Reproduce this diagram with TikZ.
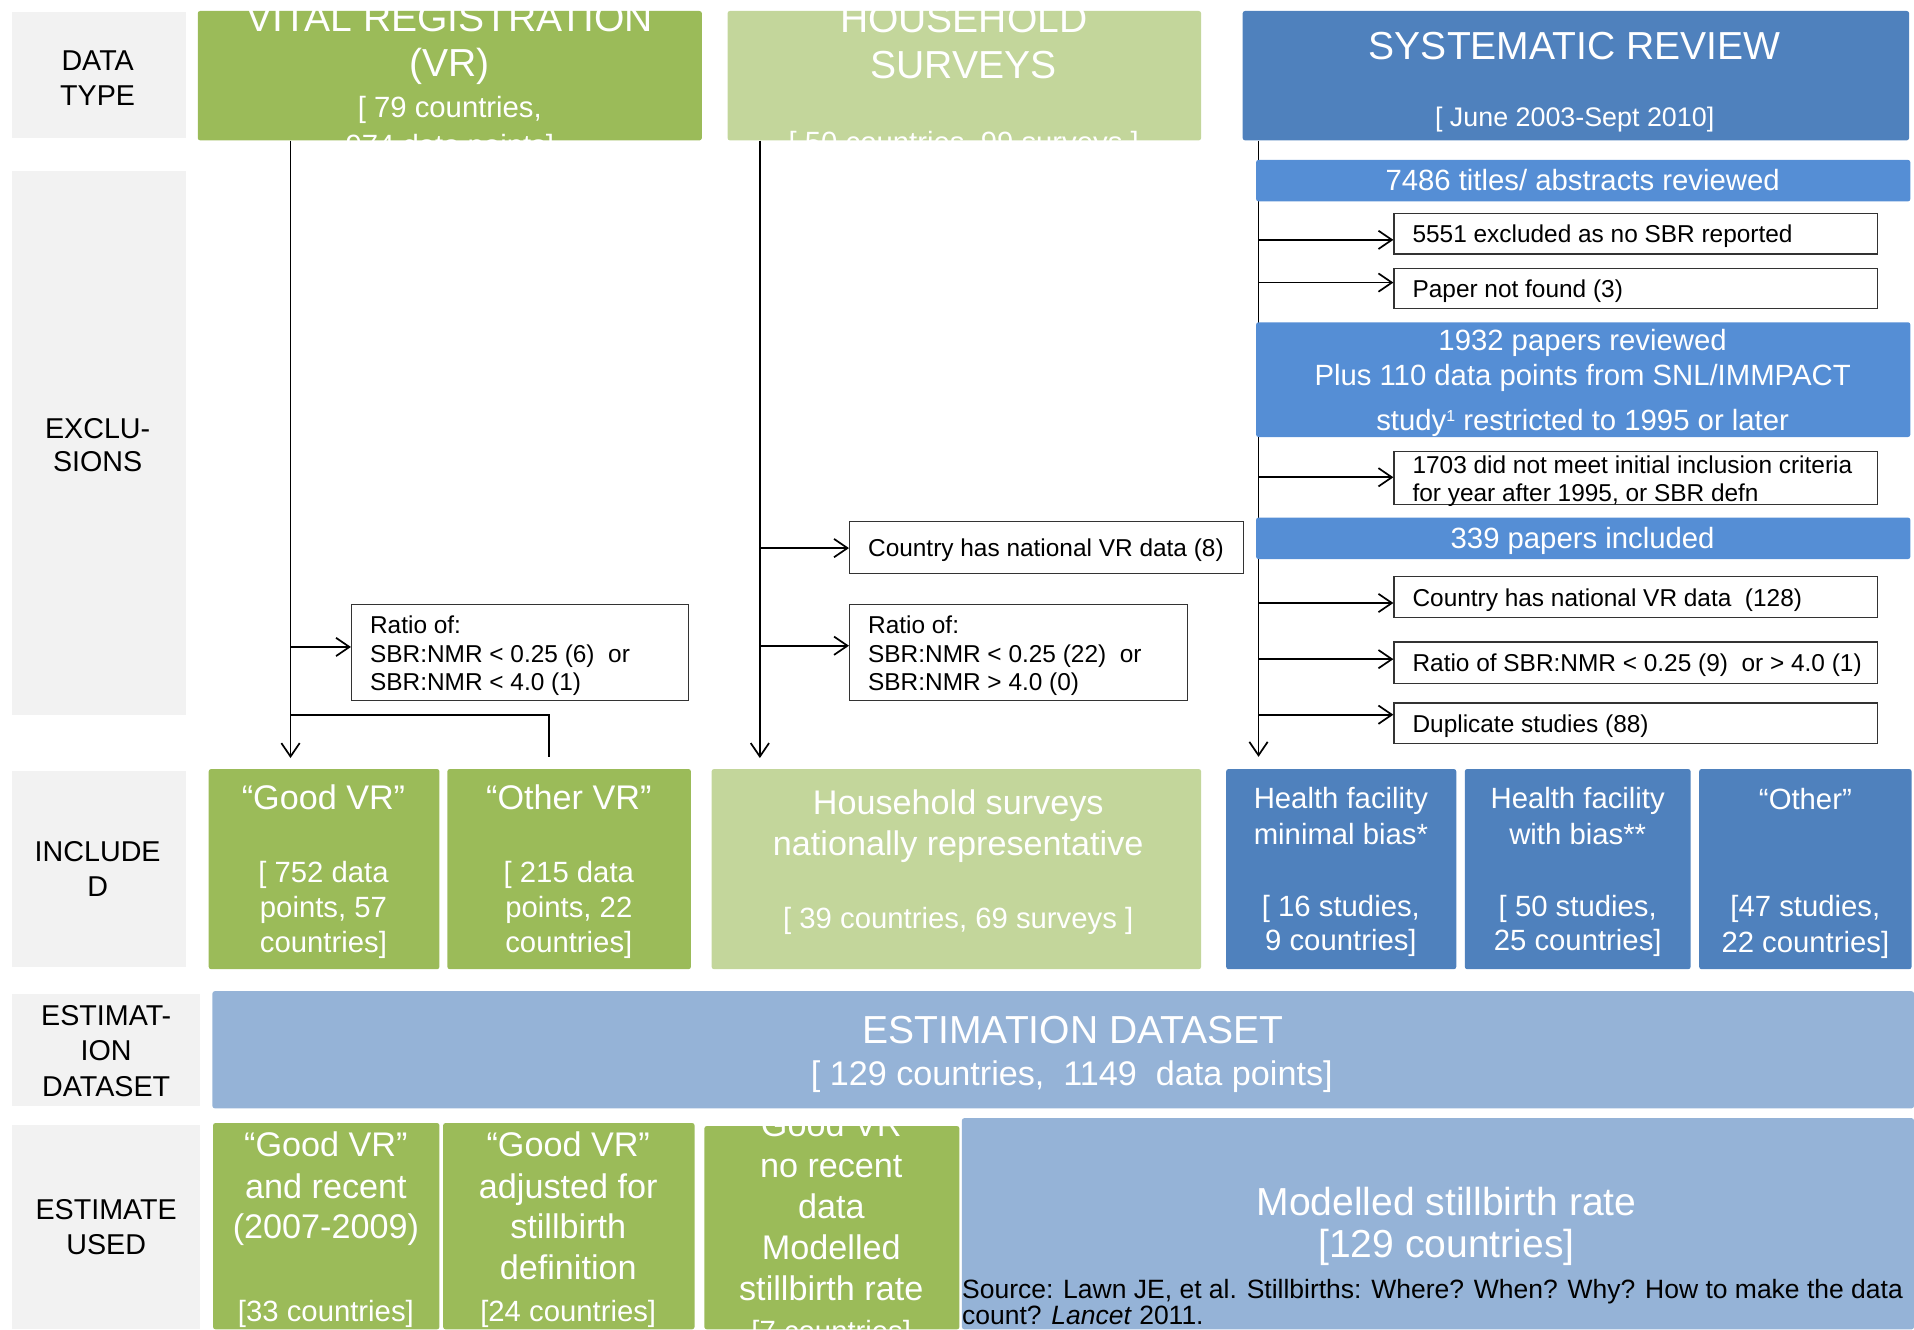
\documentclass[tikz,border=0pt]{standalone}
\usepackage{fontspec}
\setmainfont{Liberation Sans}
\usetikzlibrary{arrows.meta,fit,backgrounds}

\definecolor{vrgreen}{HTML}{9BBB59}
\definecolor{hhgreen}{HTML}{C3D69B}
\definecolor{srblue}{HTML}{4F81BD}
\definecolor{barblue}{HTML}{558ED5}
\definecolor{estblue}{HTML}{95B3D7}
\definecolor{lblgray}{HTML}{F2F2F2}

\newcommand\fsz[2]{\fontsize{#1}{#2}\selectfont}
% one line of text, placed by its baseline
\newcommand\tline[5]{\node[tl,#2] (#1) at (#3,#4) {#5};}

\tikzset{
  tl/.style={anchor=base, inner sep=0pt, text=white},
  lbltext/.style={text=black, font=\fsz{23.5}{29}},
  tlleft/.style={anchor=base west, inner sep=0pt, text=black, font=\fsz{20}{24}},
  panel/.style={rectangle, fill=#1, draw=none, rounded corners=2pt, inner sep=0pt},
  lbl/.style={rectangle, fill=lblgray, inner sep=0pt},
  exbox/.style={rectangle, draw=black!80, line width=1pt, fill=white, inner sep=0pt},
  flow/.style={line width=1.4pt, -{Straight Barb[length=11pt,width=15pt,line width=1.4pt]}},
  plain/.style={line width=1.4pt},
  big/.style={font=\fsz{32}{37}},
  mid/.style={font=\fsz{28}{33}},
  std/.style={font=\fsz{24}{29}},
  sml/.style={font=\fsz{22}{26}},
  note/.style={anchor=base west, inner sep=0pt, text=black, font=\fsz{21.7}{26}},
}

\begin{document}
\begin{tikzpicture}[x=1pt,y=-1pt]
\useasboundingbox (0,0) rectangle (1568,1089);

% ---------- row labels ----------
\node[lbl, fit={(10,10) (152,113)}] (lblData) {};
\tline{ldA}{lbltext}{80}{57.5}{DATA}
\tline{ldB}{lbltext}{80}{86.5}{TYPE}
\node[lbl, fit={(10,140) (152,586)}] (lblExcl) {};
\tline{leA}{lbltext}{80}{359.5}{EXCLU-}
\tline{leB}{lbltext}{80}{386.5}{SIONS}
\node[lbl, fit={(10,632) (152,792)}] (lblIncl) {};
\tline{liA}{lbltext}{80}{706}{INCLUDE}
\tline{liB}{lbltext}{80}{734.5}{D}
\node[lbl, fit={(10,814) (164,906)}] (lblEst) {};
\tline{lsA}{lbltext}{87}{840}{ESTIMAT-}
\tline{lsB}{lbltext}{87}{869}{ION}
\tline{lsC}{lbltext}{87}{898}{DATASET}
\node[lbl, fit={(10,922) (164,1089)}] (lblUsed) {};
\tline{luA}{lbltext}{87}{999}{ESTIMATE}
\tline{luB}{lbltext}{87}{1028}{USED}

% ---------- data sources ----------
\node[panel=vrgreen, fit={(162,9) (575,115)}] (vr) {};
\node[panel=hhgreen, fit={(596,9) (984,115)}] (hh) {};
\node[panel=srblue, fit={(1018,9) (1564,115)}] (sr) {};

\begin{scope}
  \clip (vr.north west) rectangle (vr.south east);
  \tline{vrA}{big}{368.5}{26}{VITAL REGISTRATION}
  \tline{vrB}{big}{368.5}{63}{(VR)}
  \tline{vrC}{std}{368.5}{96}{[ 79 countries,}
  \tline{vrD}{std}{368.5}{127}{974 data points]}
\end{scope}
\begin{scope}
  \clip (hh.north west) rectangle (hh.south east);
  \tline{hhA}{big}{789.5}{27}{HOUSEHOLD}
  \tline{hhB}{big}{789.5}{64}{SURVEYS}
  \tline{hhC}{std}{789.5}{125}{[ 50 countries, 99 surveys ]}
\end{scope}
\tline{srA}{big}{1290}{49}{SYSTEMATIC REVIEW}
\tline{srB}{sml}{1290}{104}{[ June 2003-Sept 2010]}

% ---------- trunk and branch points ----------
\coordinate (vrT) at (238,621);
\coordinate (hhT) at (622.5,621);
\coordinate (srT) at (1031,620);
\coordinate (vrB1) at (238,530);
\coordinate (vrB2) at (238,586);
\coordinate (ovrIn) at (450,620);
\coordinate (hhB1) at (622.5,449);
\coordinate (hhB2) at (622.5,529);
\coordinate (srB1) at (1031,196.5);
\coordinate (srB2) at (1031,231.5);
\coordinate (srB3) at (1031,391);
\coordinate (srB4) at (1031,494);
\coordinate (srB5) at (1031,540);
\coordinate (srB6) at (1031,585.5);

% ---------- exclusion boxes: vital registration ----------
\node[exbox, fit={(288,495) (564,574)}] (vrRatio) {};
\node[tlleft] (vrR1) at (303,519) {Ratio of:};
\node[tlleft] (vrR2) at (303,542.5) {SBR:NMR < 0.25 (6)~~or};
\node[tlleft] (vrR3) at (303,566) {SBR:NMR < 4.0 (1)};

% ---------- exclusion boxes: household surveys ----------
\node[exbox, fit={(696,427) (1019,470)}] (hhVR) {};
\node[tlleft] (hhV1) at (711,455.5) {Country has national VR data (8)};
\node[exbox, fit={(696,495) (973,574)}] (hhRatio) {};
\node[tlleft] (hhR1) at (711,519) {Ratio of:};
\node[tlleft] (hhR2) at (711,542.5) {SBR:NMR < 0.25 (22)~~or};
\node[tlleft] (hhR3) at (711,566) {SBR:NMR > 4.0 (0)};

% ---------- systematic review steps ----------
\node[panel=barblue, fit={(1029,131) (1565,165)}] (bar1) {};
\tline{bar1t}{std}{1296.5}{156}{7486 titles/ abstracts reviewed}
\node[exbox, fit={(1142,175) (1538,208)}] (ex1) {};
\node[tlleft] (ex1t) at (1157,199) {5551 excluded as no SBR reported};
\node[exbox, fit={(1142,220) (1538,253)}] (ex2) {};
\node[tlleft] (ex2t) at (1157,244) {Paper not found (3)};
\node[panel=barblue, fit={(1029,264) (1565,358)}] (bar2) {};
\tline{bar2a}{std}{1296.5}{287}{1932 papers reviewed}
\tline{bar2b}{std}{1296.5}{315.5}{Plus 110 data points from SNL/IMMPACT}
\tline{bar2c}{std}{1296.5}{353}{study\raisebox{7.5pt}{\fsz{13}{13}1} restricted to 1995 or later}
\node[exbox, fit={(1142,370) (1538,413)}] (ex3) {};
\node[tlleft] (ex3a) at (1157,387.5) {1703 did not meet initial inclusion criteria};
\node[tlleft] (ex3b) at (1157,411) {for year after 1995, or SBR defn};
\node[panel=barblue, fit={(1029,424) (1565,458)}] (bar3) {};
\tline{bar3t}{std}{1296.5}{449}{339 papers included}
\node[exbox, fit={(1142,472) (1538,506)}] (ex4) {};
\node[tlleft] (ex4t) at (1157,496.5) {Country has national VR data~~(128)};
\node[exbox, fit={(1142,526) (1538,560)}] (ex5) {};
\node[tlleft] (ex5t) at (1157,550.5) {Ratio of SBR:NMR < 0.25 (9)~~or > 4.0 (1)};
\node[exbox, fit={(1142,576) (1538,609)}] (ex6) {};
\node[tlleft] (ex6t) at (1157,600) {Duplicate studies (88)};

% ---------- included data ----------
\node[panel=vrgreen, fit={(171,630) (360,794)}] (goodvr) {};
\tline{gv1}{mid}{265}{663.5}{“Good VR”}
\tline{gv2}{std}{265}{723}{[ 752 data}
\tline{gv3}{std}{265}{751.5}{points, 57}
\tline{gv4}{std}{265}{780}{countries]}
\node[panel=vrgreen, fit={(366.5,630) (566,794)}] (othervr) {};
\tline{ov1}{mid}{466}{663.5}{“Other VR”}
\tline{ov2}{std}{466}{723}{[ 215 data}
\tline{ov3}{std}{466}{751.5}{points, 22}
\tline{ov4}{std}{466}{780}{countries]}
\node[panel=hhgreen, fit={(583,630) (984,794)}] (hhinc) {};
\tline{hi1}{mid}{785}{667.5}{Household surveys}
\tline{hi2}{mid}{785}{701}{nationally representative}
\tline{hi3}{std}{785}{761}{[ 39 countries, 69 surveys ]}
\node[panel=srblue, fit={(1004.5,630) (1193,794)}] (hf1) {};
\tline{hfa1}{std}{1098.5}{662}{Health facility}
\tline{hfa2}{std}{1098.5}{691.5}{minimal bias*}
\tline{hfa3}{std}{1098.5}{750.5}{[ 16 studies,}
\tline{hfa4}{std}{1098.5}{779}{9 countries]}
\node[panel=srblue, fit={(1200,630) (1385,794)}] (hf2) {};
\tline{hfb1}{std}{1292.5}{662}{Health facility}
\tline{hfb2}{std}{1292.5}{691.5}{with bias**}
\tline{hfb3}{std}{1292.5}{750.5}{[ 50 studies,}
\tline{hfb4}{std}{1292.5}{779}{25 countries]}
\node[panel=srblue, fit={(1392,630) (1566,794)}] (oth) {};
\tline{ot1}{std}{1479}{663.5}{“Other”}
\tline{ot2}{std}{1479}{751}{[47 studies,}
\tline{ot3}{std}{1479}{780}{22 countries]}

% ---------- estimation dataset ----------
\node[panel=estblue, fit={(174,812) (1568,908)}] (estset) {};
\tline{es1}{big}{879}{855}{ESTIMATION DATASET}
\tline{es2}{mid}{878}{889}{[ 129 countries,~~1149~~data points]}

% ---------- estimate used ----------
\node[panel=vrgreen, fit={(174.5,920) (360,1089)}] (use1) {};
\tline{ua1}{mid}{267}{947.5}{“Good VR”}
\tline{ua2}{mid}{267}{981.5}{and recent}
\tline{ua3}{mid}{267}{1015}{(2007-2009)}
\tline{ua4}{std}{267}{1082.5}{[33 countries]}
\node[panel=vrgreen, fit={(363,920) (569,1089)}] (use2) {};
\tline{ub1}{mid}{465.5}{947.5}{“Good VR”}
\tline{ub2}{mid}{465.5}{981.5}{adjusted for}
\tline{ub3}{mid}{465.5}{1015}{stillbirth}
\tline{ub4}{mid}{465.5}{1048.5}{definition}
\tline{ub5}{std}{465.5}{1082.5}{[24 countries]}
\node[panel=vrgreen, fit={(577,922.5) (786,1089)}] (use3) {};
\begin{scope}
  \clip (use3.north west) rectangle (use3.south east);
  \tline{uc1}{mid}{681}{931}{“Good VR”}
  \tline{uc2}{mid}{681}{965}{no recent}
  \tline{uc3}{mid}{681}{998.5}{data}
  \tline{uc4}{mid}{681}{1032}{Modelled}
  \tline{uc5}{mid}{681}{1065.5}{stillbirth rate}
  \tline{uc6}{std}{681}{1099}{[7 countries]}
\end{scope}
\node[panel=estblue, fit={(788,916) (1568,1089)}] (use4) {};
\tline{ud1}{big}{1185}{996}{Modelled stillbirth rate}
\tline{ud2}{big}{1185}{1030}{[129 countries]}
\node[note] (src1) at (788,1063.5) {Source: Lawn JE, et al. Stillbirths: Where? When? Why? How to make the data};
\node[note] (src2) at (788,1085) {count? \textit{Lancet} 2011.};

% ---------- connectors ----------
\begin{scope}[on background layer]
  \draw[flow] (sr.south -| srT) -- (srT);
\end{scope}
\draw[flow] (vr.south -| vrT) -- (vrT);
\draw[flow] (hh.south -| hhT) -- (hhT);

\draw[flow] (vrB1) -- (vrRatio.west |- vrB1);
\draw[plain] (vrB2) -| (ovrIn);

\draw[flow] (hhB1) -- (hhVR.west |- hhB1);
\draw[flow] (hhB2) -- (hhRatio.west |- hhB2);

\draw[flow] (srB1) -- (ex1.west |- srB1);
\draw[flow] (srB2) -- (ex2.west |- srB2);
\draw[flow] (srB3) -- (ex3.west |- srB3);
\draw[flow] (srB4) -- (ex4.west |- srB4);
\draw[flow] (srB5) -- (ex5.west |- srB5);
\draw[flow] (srB6) -- (ex6.west |- srB6);
\end{tikzpicture}
\end{document}
